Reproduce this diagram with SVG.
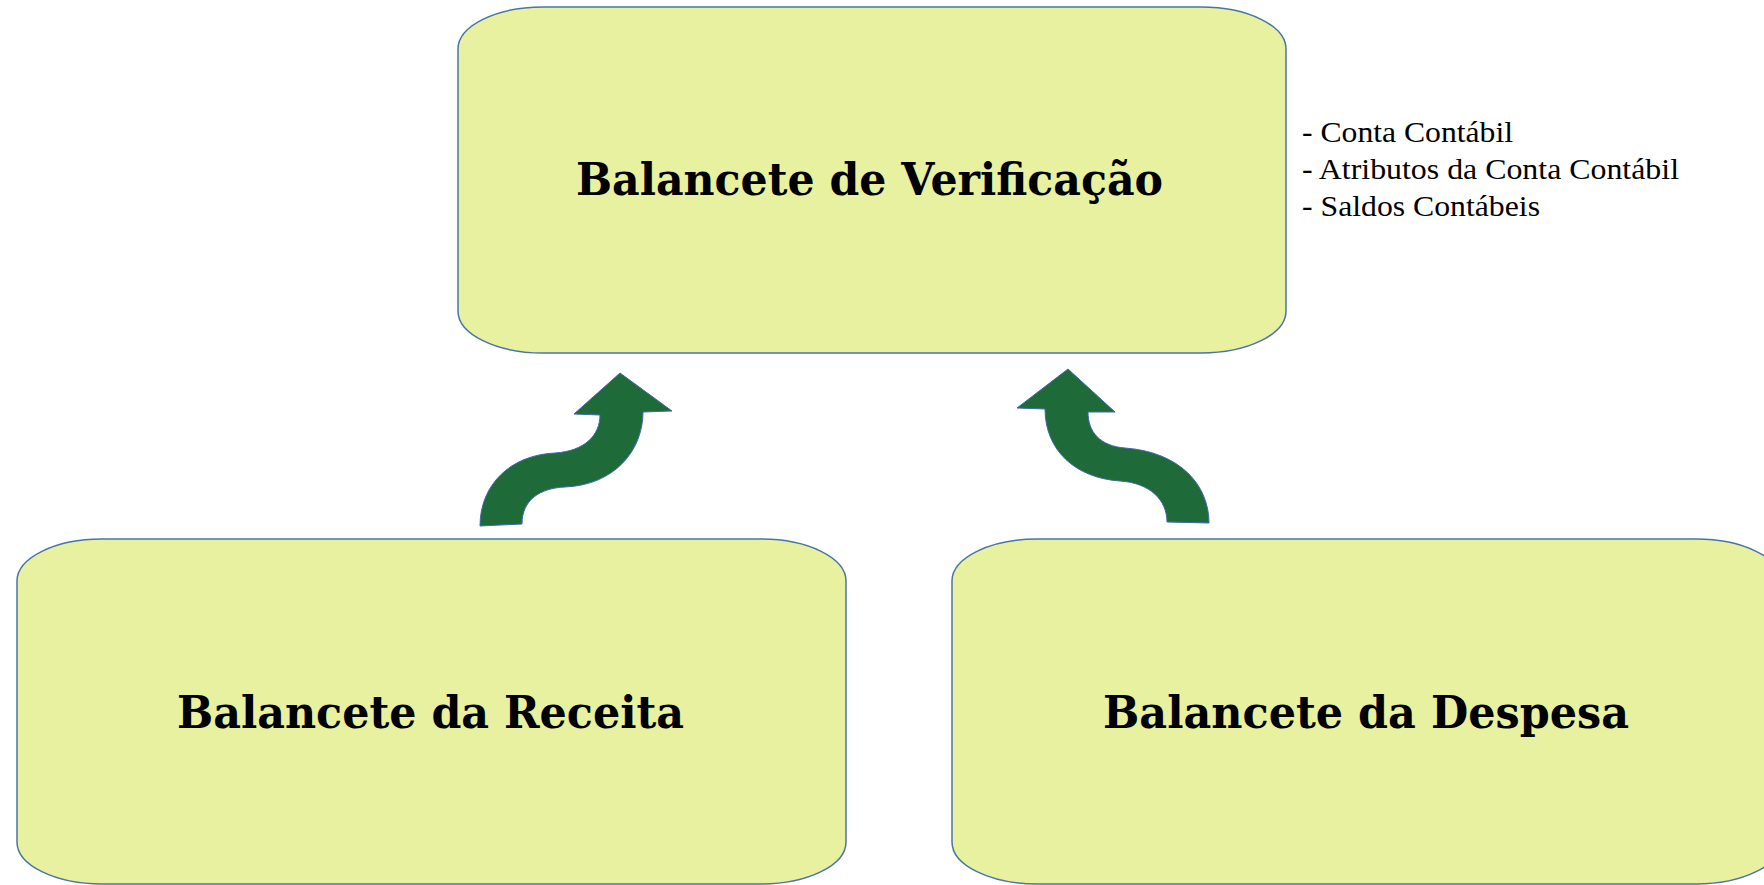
<svg xmlns="http://www.w3.org/2000/svg" width="1764" height="885" viewBox="0 0 1764 885">
<style>
.box{fill:#e8f1a0;stroke:#4a74a8;stroke-width:1.5}
.title{font-family:"DejaVu Serif",serif;font-weight:bold;font-size:44px;fill:#000}
.note{font-family:"Liberation Serif",serif;font-size:29px;fill:#000}
.arrow{fill:#1f6a39;stroke:#3d6aa8;stroke-width:1}
</style>
<rect width="1764" height="885" fill="#ffffff"/>
<g id="node-verificacao">
<rect class="box" x="458" y="7" width="828" height="346" rx="85" ry="42"/>
<text class="title" x="576" y="195" textLength="587" lengthAdjust="spacingAndGlyphs">Balancete de Verificação</text>
</g>
<g id="note-verificacao">
<text class="note" x="1302" y="142" textLength="211" lengthAdjust="spacingAndGlyphs">- Conta Contábil</text>
<text class="note" x="1302" y="179" textLength="377" lengthAdjust="spacingAndGlyphs">- Atributos da Conta Contábil</text>
<text class="note" x="1302" y="216" textLength="238" lengthAdjust="spacingAndGlyphs">- Saldos Contábeis</text>
</g>
<g id="node-receita">
<rect class="box" x="17" y="539" width="829" height="345" rx="85" ry="42"/>
<text class="title" x="177" y="728" textLength="507" lengthAdjust="spacingAndGlyphs">Balancete da Receita</text>
</g>
<g id="node-despesa">
<rect class="box" x="952" y="539" width="829" height="345" rx="85" ry="42"/>
<text class="title" x="1103" y="728" textLength="526" lengthAdjust="spacingAndGlyphs">Balancete da Despesa</text>
</g>
<g id="connectors">
<path class="arrow" d="M480,526 C480,485 510,455 555,453 C585,451 600,435 600,415 L574,414 L620,373 L672,411 L643,412 C643,450 615,485 565,487 C540,488 522,500 522,524 Z"/>
<path class="arrow" d="M1045,409 C1045,450 1075,478 1120,481 C1150,483 1167,500 1167,522 L1209,523 C1209,485 1180,452 1125,448 C1100,446 1088,432 1088,412 L1115,412 L1068,369 L1017,408 Z"/>
</g>
</svg>
